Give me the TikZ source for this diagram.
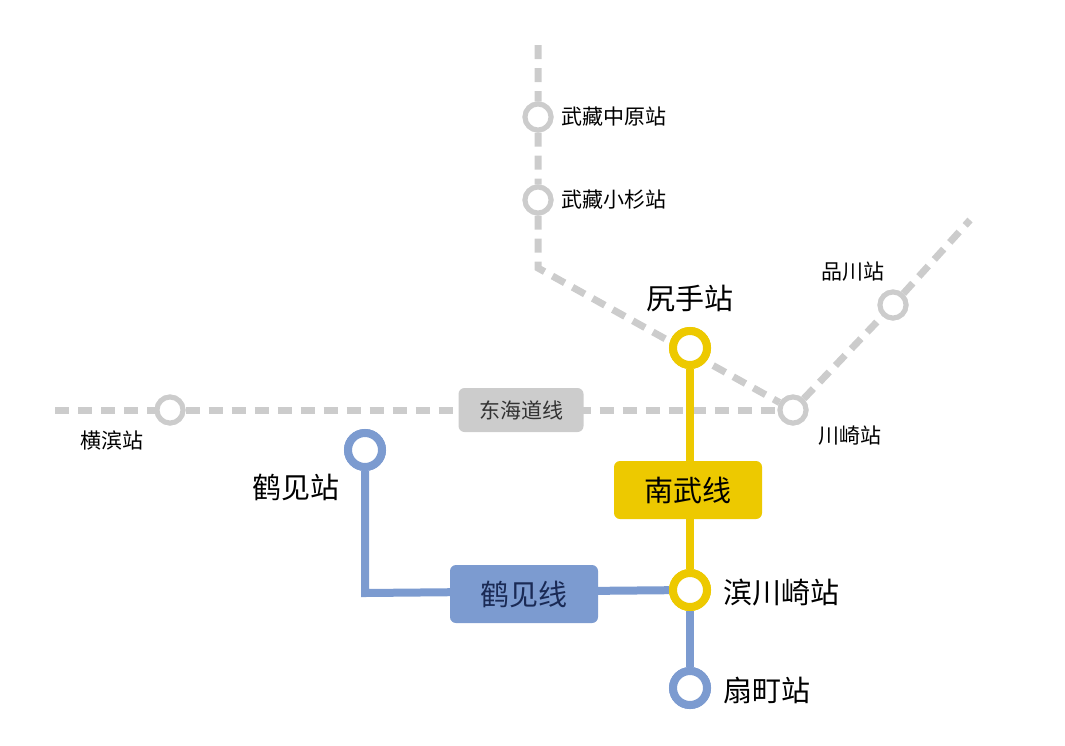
\documentclass[tikz,border=0pt]{standalone}
\usepackage{fontspec}
\setmainfont{Noto Sans CJK SC}
\begin{document}
\begin{tikzpicture}[x=1pt,y=-1pt,
  grayline/.style={line width=7pt,draw=gr,dash pattern=on 14pt off 9pt},
  gst/.style={circle,draw=gr,line width=5pt,fill=white,minimum size=26pt,inner sep=0pt},
  yst/.style={circle,draw=yl,line width=8pt,fill=white,minimum size=34pt,inner sep=0pt},
  bst/.style={circle,draw=bl,line width=8pt,fill=white,minimum size=34pt,inner sep=0pt},
  sm/.style={font=\fontsize{21}{24}\selectfont,text=black},
  bg/.style={font=\fontsize{29}{33}\selectfont,text=black},
  box/.style={rounded corners=6pt,minimum width=148pt,minimum height=58pt,font=\fontsize{29}{33}\selectfont}]
\definecolor{gr}{HTML}{CCCCCC}
\definecolor{yl}{HTML}{EDC900}
\definecolor{bl}{HTML}{7C9BD0}
\definecolor{nv}{HTML}{1A2A55}
\useasboundingbox (0,0) rectangle (1065,745);
% coordinates
\coordinate (ntop) at (538,45);
\coordinate (nbend) at (538,268);
\coordinate (wend) at (55,410);
\coordinate (neend) at (970,220);
\coordinate (bbend) at (365,593);
% gray stations
\node[gst] (mn) at (538,117) {};
\node[gst] (mk) at (538,200) {};
\node[gst] (yh) at (170,410) {};
\node[gst] (kw) at (793,410) {};
\node[gst] (sg) at (893,305) {};
\begin{scope}[on background layer/.style={}]
\end{scope}
% gray lines (drawn first via coordinates)
\draw[grayline] (ntop) -- (mn) -- (mk) -- (nbend) -- (kw);
\draw[grayline] (wend) -- (yh) -- (kw);
\draw[grayline] (kw) -- (sg) -- (neend);
\node[gst] at (538,117) {};
\node[gst] at (538,200) {};
\node[gst] at (170,410) {};
\node[gst] at (793,410) {};
\node[gst] at (893,305) {};
\node[box,fill=gr,minimum width=125pt,minimum height=44pt,font=\fontsize{21}{24}\selectfont,text=black!80] (tkd) at (521,410) {东海道线};
% yellow & blue
\node[yst] (sj) at (690,348) {};
\node[yst] (hk) at (690,590) {};
\node[bst] (tm) at (365,450) {};
\node[bst] (og) at (690,688) {};
\draw[bl,line width=8pt] (tm) -- (bbend) -- (hk);
\draw[bl,line width=8pt] (hk) -- (og);
\draw[yl,line width=8pt] (sj) -- (hk);
\node[yst] at (690,348) {};
\node[yst] at (690,590) {};
\node[bst] at (365,450) {};
\node[bst] at (690,688) {};
\node[box,fill=yl,text=black] (nb) at (688,490) {南武线};
\node[box,fill=bl,text=nv] (tr) at (524,594) {鹤见线};
% labels
\node[sm,anchor=west] (l1) at (558,117) {武藏中原站};
\node[sm,anchor=west] (l2) at (558,200) {武藏小杉站};
\node[sm] (l3) at (853,272) {品川站};
\node[sm] (l4) at (112,440) {横滨站};
\node[sm] (l5) at (850,436) {川崎站};
\node[bg] (l6) at (690,298) {尻手站};
\node[bg] (l7) at (296,487) {鹤见站};
\node[bg,anchor=west] (l8) at (720,593) {滨川崎站};
\node[bg,anchor=west] (l9) at (720,690) {扇町站};
\end{tikzpicture}
\end{document}
